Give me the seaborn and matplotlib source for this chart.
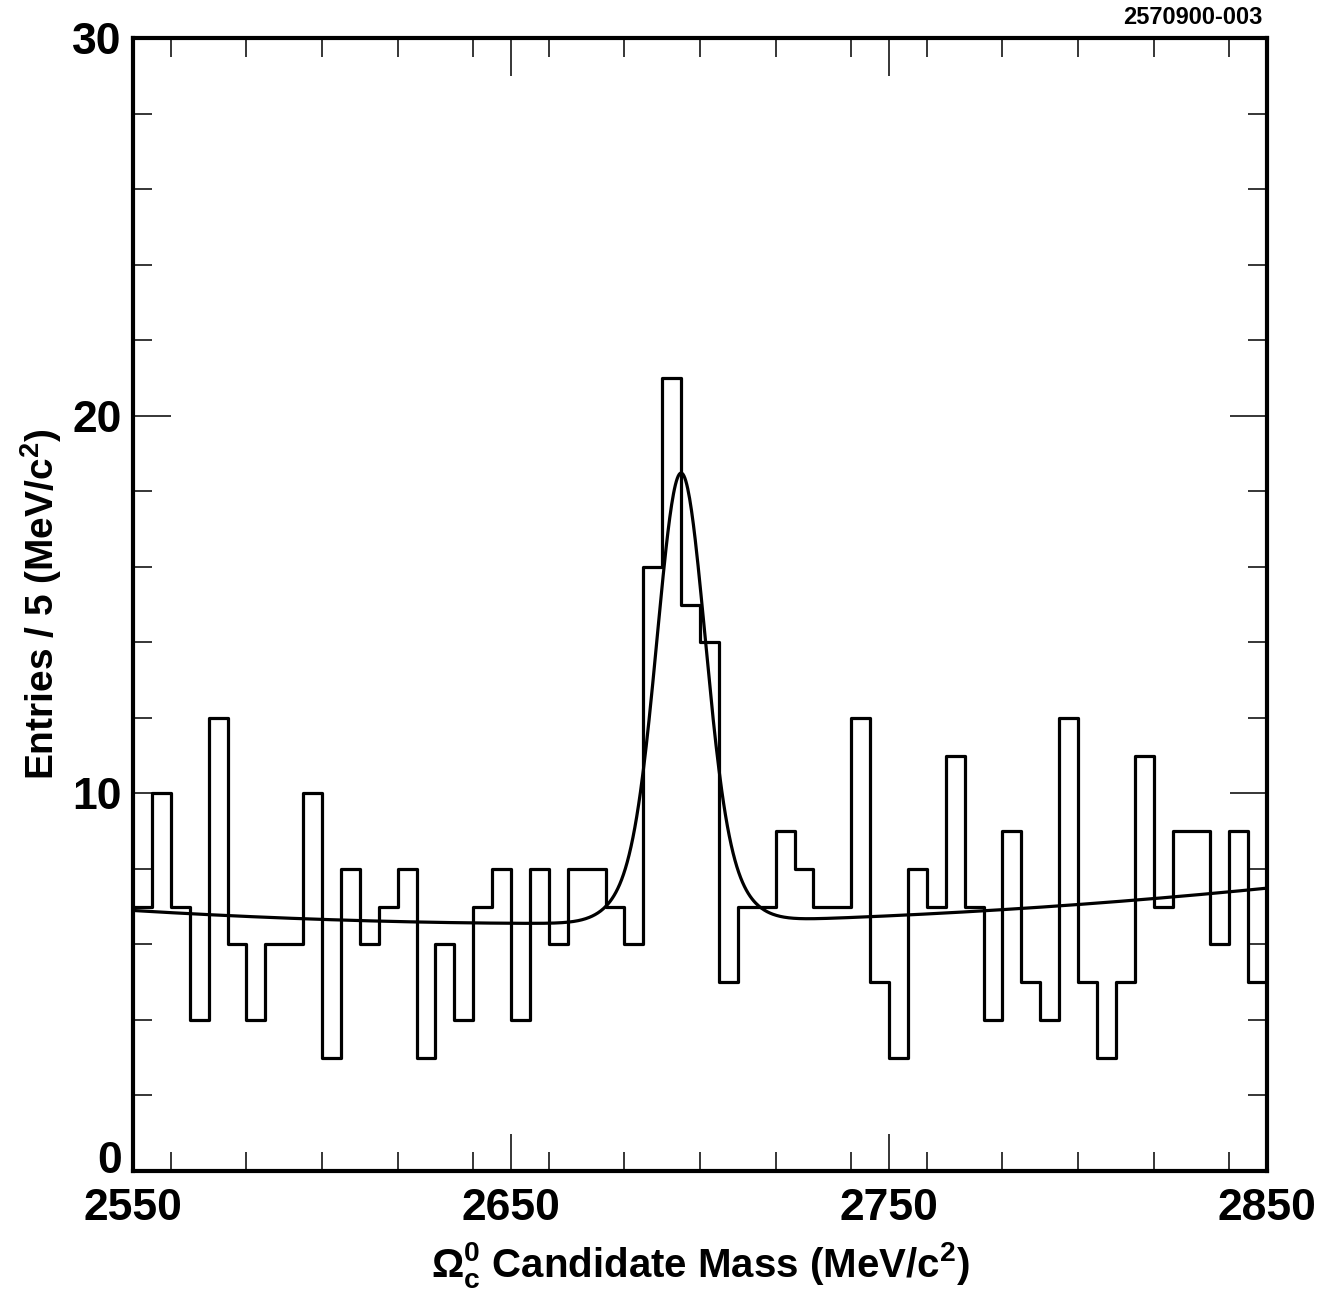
import numpy as np
import pandas as pd
import matplotlib
matplotlib.use("Agg")
import matplotlib.pyplot as plt
import matplotlib.transforms as mtransforms
import seaborn as sns
from matplotlib.ticker import MultipleLocator

# ---- data ----
bin_edges_start = 2550
bin_width = 5
counts = [7, 10, 7, 4, 12, 6, 4, 6, 6, 10,
          3, 8, 6, 7, 8, 3, 6, 4, 7, 8,
          4, 8, 6, 8, 8, 7, 6, 16, 21, 15,
          14, 5, 7, 7, 9, 8, 7, 7, 12, 5,
          3, 8, 7, 11, 7, 4, 9, 5, 4, 12,
          5, 3, 5, 11, 7, 9, 9, 6, 9, 5]
x_ticks = [2550, 2650, 2750, 2850]
y_ticks = [0, 10, 20, 30]

# fit parameters (signal: two gaussians, background: quadratic)
peak_mass = 2695.0
narrow_amp, narrow_sigma = 8.9, 6.0
wide_amp, wide_sigma = 3.0, 10.0
bg_a, bg_b, bg_c = 6.591, 0.00197, 2.68e-5

edges = bin_edges_start + bin_width * np.arange(len(counts) + 1)
centers = edges[:-1] + bin_width / 2
df = pd.DataFrame({"mass": centers, "entries": counts})

m = np.linspace(2550, 2850, 1201)
t = m - 2700
fit = (bg_a + bg_b * t + bg_c * t ** 2
       + narrow_amp * np.exp(-0.5 * ((m - peak_mass) / narrow_sigma) ** 2)
       + wide_amp * np.exp(-0.5 * ((m - peak_mass) / wide_sigma) ** 2))
fit_df = pd.DataFrame({"mass": m, "fit": fit})

sns.set_theme(style="ticks")
plt.rcParams["font.family"] = ["Liberation Sans", "DejaVu Sans"]
plt.rcParams["font.weight"] = "bold"
plt.rcParams["text.color"] = "black"
plt.rcParams["axes.labelcolor"] = "black"
plt.rcParams["xtick.color"] = "black"
plt.rcParams["ytick.color"] = "black"
plt.rcParams["mathtext.fontset"] = "custom"
plt.rcParams["mathtext.rm"] = "Liberation Sans:bold"
plt.rcParams["mathtext.it"] = "Liberation Sans:bold"
plt.rcParams["mathtext.bf"] = "Liberation Sans:bold"
plt.rcParams["mathtext.default"] = "rm"

fig = plt.figure(figsize=(13.33, 12.95), dpi=100)
ax = fig.add_axes([133 / 1333, 1 - 1171 / 1295, (1267 - 133) / 1333, (1171 - 38) / 1295])

sns.histplot(data=df, x="mass", weights="entries",
             binwidth=bin_width, binrange=(edges[0], edges[-1]), element="step",
             fill=False, color="black", linewidth=2.3, ax=ax)
sns.lineplot(data=fit_df, x="mass", y="fit", color="black", linewidth=2.3, ax=ax)

ax.set_xlim(2550, 2850)
ax.set_ylim(0, 30)
ax.set_xticks(x_ticks)
ax.set_yticks(y_ticks)
ax.xaxis.set_minor_locator(MultipleLocator(20))
ax.yaxis.set_minor_locator(MultipleLocator(2))
ax.tick_params(which="both", direction="in", top=True, right=True, width=1.1, color="black")
ax.tick_params(which="major", length=27)
ax.tick_params(which="minor", length=13.5)
ax.tick_params(axis="x", which="major", labelsize=32, pad=12, labelcolor="black")
ax.tick_params(axis="y", which="major", labelsize=32, pad=8, labelcolor="black")
for lab in ax.get_xticklabels() + ax.get_yticklabels():
    lab.set_fontweight("bold")
# raise the "0" label a bit, as in the reference
zero_lab = ax.get_yticklabels()[0]
zero_lab.set_transform(zero_lab.get_transform() +
                       mtransforms.ScaledTranslation(0, 14 / 100, fig.dpi_scale_trans))
for sp in ax.spines.values():
    sp.set_linewidth(3.0)
    sp.set_color("black")

ax.set_xlabel(r"$\Omega_c^0$ Candidate Mass (MeV/c$^2$)", fontsize=29, fontweight="bold",
              labelpad=8, color="black")
ax.set_ylabel(r"Entries / 5 (MeV/c$^2$)", fontsize=28, fontweight="bold", labelpad=6,
              color="black")
fig.text(1262 / 1333, 1 - 18 / 1295, "2570900-003", ha="right", va="center",
         fontsize=17, fontweight="bold", color="black")

fig.savefig("out.png", dpi=100)
